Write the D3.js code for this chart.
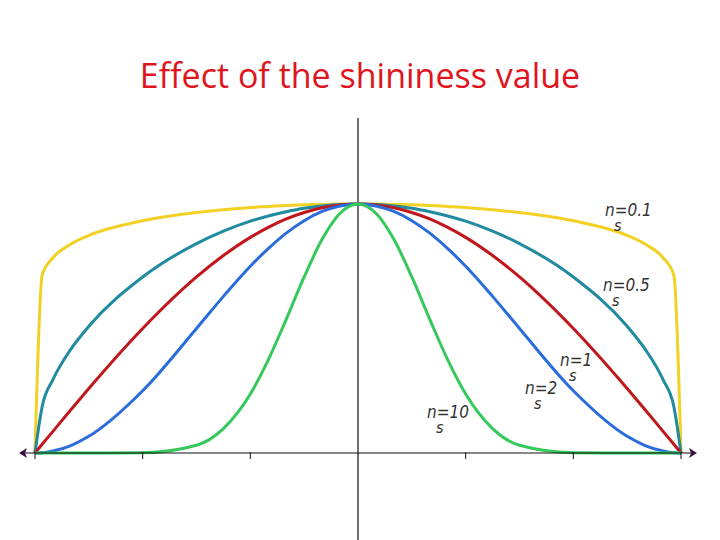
<!DOCTYPE html>
<html>
<head>
<meta charset="utf-8">
<script src="https://cdn.jsdelivr.net/npm/d3@7"></script>
<style>
  body { margin: 0; background: #fff; }
  svg { display: block; }
</style>
</head>
<body>
<svg id="chart" width="720" height="540"></svg>
<script>
// angles (degrees) sampled along the right half of the curves; left half is mirrored
const halfAngles = [0, 5, 10, 15, 20, 25, 30, 37.5, 45, 60, 75, 80, 85, 88, 90];
const half01 = [1, 1, 0.998, 0.997, 0.994, 0.99, 0.986, 0.977, 0.966, 0.933, 0.874, 0.839, 0.784, 0.715, 0];
const half05 = [1, 0.998, 0.992, 0.983, 0.969, 0.952, 0.931, 0.891, 0.841, 0.707, 0.509, 0.417, 0.295, 0.187, 0];
const half1 = [1, 0.996, 0.985, 0.966, 0.94, 0.906, 0.866, 0.793, 0.707, 0.5, 0.259, 0.174, 0.087, 0.035, 0];
const half2 = [1, 0.992, 0.97, 0.933, 0.883, 0.821, 0.75, 0.629, 0.5, 0.25, 0.067, 0.03, 0.008, 0.001, 0];
const half10 = [1, 0.963, 0.858, 0.707, 0.537, 0.374, 0.237, 0.098, 0.031, 0.001, 0, 0, 0, 0, 0];
const tickAngles = [-90, -60, -30, 30, 60, 90];

const angles = halfAngles.slice(1).reverse().map(a => -a).concat(halfAngles);
function full(h) { return h.slice(1).reverse().concat(h); }

const series = [
  {name: "0.1", values: full(half01), color: "#f2d024", lx: 605, ly: 216},
  {name: "0.5", values: full(half05), color: "#1f8aa0", lx: 603, ly: 291},
  {name: "1", values: full(half1), color: "#c0161c", lx: 560, ly: 366},
  {name: "2", values: full(half2), color: "#2a6cdc", lx: 525, ly: 394},
  {name: "10", values: full(half10), color: "#34c95a", lx: 427, ly: 418}
];

const svg = d3.select("#chart");

svg.append("text")
  .attr("x", 360).attr("y", 88)
  .attr("text-anchor", "middle")
  .attr("font-family", "Open Sans, Noto Sans, sans-serif")
  .attr("font-size", 34)
  .attr("fill", "#e0141c")
  .text("Effect of the shininess value");

const x = d3.scaleLinear().domain([-90, 90]).range([35, 681]);
const y = d3.scaleLinear().domain([0, 1]).range([453, 204]);

// vertical axis
svg.append("line")
  .attr("x1", x(0)).attr("x2", x(0))
  .attr("y1", 118).attr("y2", 540)
  .attr("stroke", "#111").attr("stroke-width", 1.2);

const line = d3.line()
  .x((d, i) => x(angles[i]))
  .y(d => y(d))
  .curve(d3.curveMonotoneX);

series.forEach(s => {
  svg.append("path")
    .attr("d", line(s.values))
    .attr("fill", "none")
    .attr("stroke", s.color)
    .attr("stroke-width", 3);
});

// horizontal axis with arrows
svg.append("line")
  .attr("x1", 22).attr("x2", 693)
  .attr("y1", y(0)).attr("y2", y(0))
  .attr("stroke", "#111").attr("stroke-width", 1.2);
svg.append("path").attr("d", "M19,453 L27,448 L25,453 L27,458 Z").attr("fill", "#3a1040");
svg.append("path").attr("d", "M697,453 L689,448 L691,453 L689,458 Z").attr("fill", "#3a1040");

svg.selectAll(".tick").data(tickAngles).join("line")
  .attr("x1", d => x(d)).attr("x2", d => x(d))
  .attr("y1", y(0) - 1).attr("y2", y(0) + 6)
  .attr("stroke", "#111").attr("stroke-width", 1);

// labels
series.forEach(s => {
  const g = svg.append("g")
    .attr("font-family", "DejaVu Sans Condensed, DejaVu Sans, sans-serif")
    .attr("font-style", "italic")
    .attr("fill", "#333");
  g.append("text").attr("x", s.lx).attr("y", s.ly).attr("font-size", 17).text("n=" + s.name);
  g.append("text").attr("x", s.lx + 9).attr("y", s.ly + 15).attr("font-size", 16).text("s");
});
</script>
</body>
</html>
